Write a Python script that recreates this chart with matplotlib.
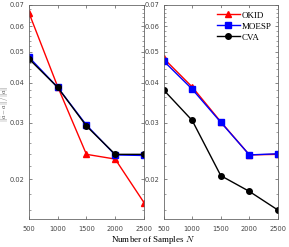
import matplotlib
matplotlib.use("Agg")
import matplotlib.pyplot as plt
from matplotlib.ticker import FixedLocator, MultipleLocator, FormatStrFormatter, NullFormatter

plt.rcParams['mathtext.fontset'] = 'cm'

samples = [500, 1000, 1500, 2000, 2500]

# left panel
okid_l = [0.0662, 0.0389, 0.0239, 0.0231, 0.0169]
moesp_l = [0.0481, 0.0387, 0.0295, 0.0238, 0.0237]
cva_l = [0.0475, 0.0387, 0.0293, 0.0239, 0.0239]

# right panel
okid_r = [0.0477, 0.0388, 0.0302, 0.0238, 0.0239]
moesp_r = [0.0468, 0.0382, 0.0301, 0.0238, 0.0240]
cva_r = [0.0380, 0.0305, 0.0205, 0.0183, 0.0160]

yticks = [0.02, 0.03, 0.04, 0.05, 0.06, 0.07]
xticks = [500, 1000, 1500, 2000, 2500]

fig = plt.figure(figsize=(2.89, 2.47), dpi=100)
ax1 = fig.add_axes([0.100, 0.113, 0.398, 0.867])
ax2 = fig.add_axes([0.566, 0.113, 0.396, 0.867])


def draw(ax, okid, moesp, cva, legend=False):
    ax.plot(samples, okid, color='red', marker='^', markersize=4, lw=1, label='OKID')
    ax.plot(samples, moesp, color='blue', marker='s', markersize=4, lw=1, label='MOESP')
    ax.plot(samples, cva, color='black', marker='o', markersize=4, lw=1, label='CVA')
    ax.set_yscale('log')
    ax.set_ylim(0.015, 0.07)
    ax.set_xlim(500, 2500)
    ax.yaxis.set_major_locator(FixedLocator(yticks))
    ax.yaxis.set_major_formatter(FormatStrFormatter('%.2f'))
    ax.yaxis.set_minor_locator(MultipleLocator(0.002))
    ax.yaxis.set_minor_formatter(NullFormatter())
    ax.set_xticks(xticks)
    ax.tick_params(which='both', direction='in', top=True, right=True,
                   labelsize=4.8, colors='#555555', labelcolor='#444444')
    ax.tick_params(which='major', length=2.5, width=0.5, pad=3)
    ax.tick_params(which='minor', length=1.3, width=0.4)
    ax.tick_params(axis='x', pad=5)
    for s in ax.spines.values():
        s.set_color('#666666')
        s.set_linewidth(0.6)
    if legend:
        leg = ax.legend(loc='upper right', frameon=True,
                        prop={'family': 'Liberation Serif', 'size': 6.5},
                        handlelength=2.6, borderaxespad=0.3, labelspacing=0.3,
                        handletextpad=0.2)
        leg.get_frame().set_edgecolor('white')
        leg.get_frame().set_linewidth(0)


draw(ax1, okid_l, moesp_l, cva_l)
draw(ax2, okid_r, moesp_r, cva_r, legend=True)

ax1.set_ylabel(r'$\|\hat{a}-a\|\,/\,\|a\|$', fontsize=4.6, color='#333333')
ax1.yaxis.set_label_coords(-0.165, 0.54)
fig.text(0.53, 0.03, r'Number of Samples $N$', ha='center', va='center',
         fontsize=6.5, family='Liberation Serif')

fig.savefig('out.png', dpi=100)
